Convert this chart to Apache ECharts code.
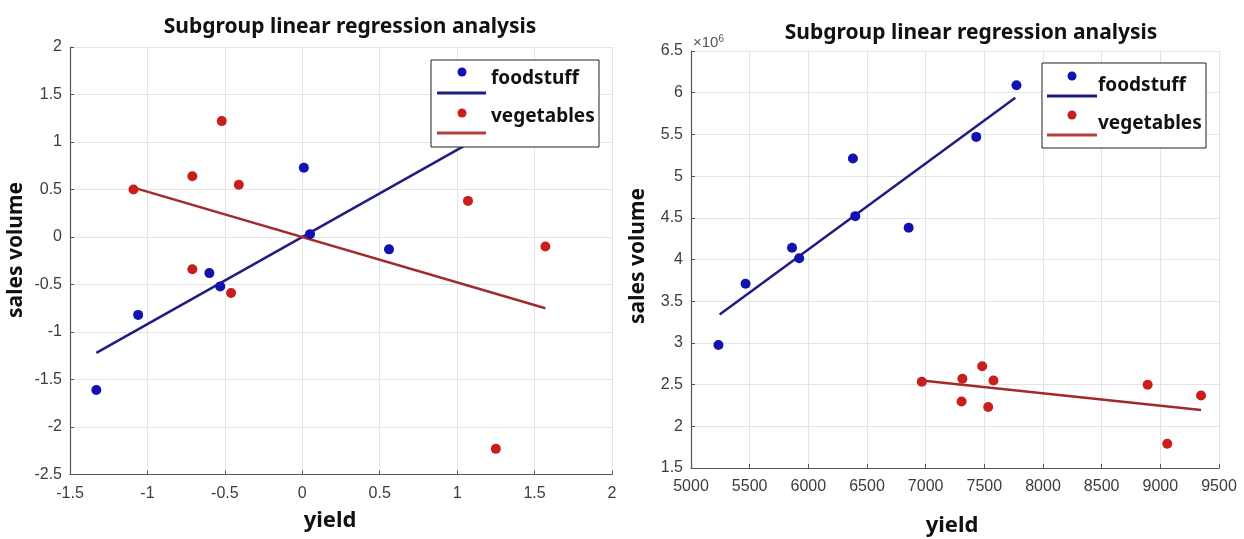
<!DOCTYPE html>
<html>
<head>
<meta charset="utf-8">
<script src="https://cdn.jsdelivr.net/npm/echarts@6/dist/echarts.min.js"></script>
<style>html,body{margin:0;padding:0;background:#fff;}#c{width:1244px;height:539px;}</style>
</head>
<body>
<div id="c"></div>
<script>
// ---- Left panel (standardized data) ----
var leftFoodX = [0.01, 0.05, 0.56, -0.60, -0.53, -1.06, -1.33];
var leftFoodY = [0.73, 0.03, -0.13, -0.38, -0.52, -0.82, -1.61];
var leftVegX = [-1.09, -0.71, -0.52, -0.41, 1.07, 1.57, -0.71, -0.46, 1.25];
var leftVegY = [0.50, 0.64, 1.22, 0.55, 0.38, -0.10, -0.34, -0.59, -2.23];
var leftFoodFitX = [-1.33, 1.10];
var leftFoodFitY = [-1.22, 1.01];
var leftVegFitX = [-1.09, 1.57];
var leftVegFitY = [0.52, -0.75];
var leftXTicks = [-1.5, -1, -0.5, 0, 0.5, 1, 1.5, 2];
var leftYTicks = [-2.5, -2, -1.5, -1, -0.5, 0, 0.5, 1, 1.5, 2];

// ---- Right panel (raw data) ----
var rightFoodX = [5234, 5465, 5861, 5922, 6380, 6400, 6855, 7431, 7774];
var rightFoodY = [2975000, 3710000, 4140000, 4015000, 5210000, 4520000, 4380000, 5470000, 6090000];
var rightVegX = [6967, 7313, 7306, 7482, 7578, 7533, 8892, 9059, 9347];
var rightVegY = [2535000, 2570000, 2298000, 2720000, 2550000, 2232000, 2498000, 1790000, 2370000];
var rightFoodFitX = [5244, 7764];
var rightFoodFitY = [3340000, 5940000];
var rightVegFitX = [6967, 9347];
var rightVegFitY = [2550000, 2195000];
var rightXTicks = [5000, 5500, 6000, 6500, 7000, 7500, 8000, 8500, 9000, 9500];
var rightYTicks = [1.5, 2, 2.5, 3, 3.5, 4, 4.5, 5, 5.5, 6, 6.5];

var titleText = 'Subgroup linear regression analysis';
var legendNames = ['foodstuff', 'vegetables'];
var xName = 'yield';
var yName = 'sales volume';

function zip(a, b) { return a.map(function (v, i) { return [v, b[i]]; }); }

var BLUE_DOT = '#1212b0', BLUE_LINE = '#1e1e82';
var RED_DOT = '#c81e1e', RED_LINE = '#a32a2a';
var TICK_FONT = { color: '#3c3c3c', fontSize: 16, fontFamily: 'Liberation Sans, Arial, sans-serif' };
var BOLD = 'Noto Sans, DejaVu Sans, sans-serif';

function valAxis(gi, ticks, fmt, isX) {
  var interval = ticks[1] - ticks[0];
  return {
    type: 'value', gridIndex: gi,
    min: ticks[0], max: ticks[ticks.length - 1], interval: interval,
    axisLine: { show: true, onZero: false, lineStyle: { color: '#555', width: 1.2 } },
    axisTick: { show: true, inside: true, length: 4, lineStyle: { color: '#555' } },
    splitLine: { show: true, lineStyle: { color: '#e4e4e4', width: 1 } },
    axisLabel: Object.assign({ margin: isX ? 11 : 8, formatter: fmt, showMinLabel: true, showMaxLabel: true }, TICK_FONT)
  };
}

var chart = echarts.init(document.getElementById('c'), null, { renderer: 'canvas' });

function legendBox(x0, y0, w, h, items) {
  var els = [{ type: 'rect', shape: { x: x0, y: y0, width: w, height: h }, style: { fill: '#fff', stroke: '#222', lineWidth: 1 }, z: 100 }];
  items.forEach(function (it) {
    els.push({ type: 'circle', shape: { cx: it.dx, cy: it.dy, r: 4.5 }, style: { fill: it.dot }, z: 101 });
    els.push({ type: 'line', shape: { x1: it.lx1, y1: it.ly, x2: it.lx2, y2: it.ly }, style: { stroke: it.line, lineWidth: 3 }, z: 101 });
    els.push({ type: 'text', x: it.tx, y: it.ty, style: { text: it.text, font: 'bold 19px ' + BOLD, fill: '#111', textVerticalAlign: 'middle' }, z: 101 });
  });
  return els;
}

var graphics = [
  { type: 'text', x: 350, y: 27, style: { text: titleText, font: 'bold 21px ' + BOLD, fill: '#111', textAlign: 'center', textVerticalAlign: 'middle' } },
  { type: 'text', x: 971, y: 33, style: { text: titleText, font: 'bold 21px ' + BOLD, fill: '#111', textAlign: 'center', textVerticalAlign: 'middle' } },
  { type: 'text', x: 330, y: 521, style: { text: xName, font: 'bold 22px ' + BOLD, fill: '#111', textAlign: 'center', textVerticalAlign: 'middle' } },
  { type: 'text', x: 952, y: 526, style: { text: xName, font: 'bold 22px ' + BOLD, fill: '#111', textAlign: 'center', textVerticalAlign: 'middle' } },
  { type: 'text', x: 16, y: 250, rotation: Math.PI / 2, style: { text: yName, font: 'bold 21px ' + BOLD, fill: '#111', textAlign: 'center', textVerticalAlign: 'middle' } },
  { type: 'text', x: 638, y: 256, rotation: Math.PI / 2, style: { text: yName, font: 'bold 21px ' + BOLD, fill: '#111', textAlign: 'center', textVerticalAlign: 'middle' } },
  { type: 'text', x: 693, y: 43, style: { rich: { a: { fontSize: 15, fontFamily: 'Liberation Sans, Arial, sans-serif', fill: '#555' }, b: { fontSize: 10, fontFamily: 'Liberation Sans, Arial, sans-serif', fill: '#555', verticalAlign: 'top', padding: [0, 0, 8, 0] } }, text: '{a|\u00d710}{b|6}', textVerticalAlign: 'middle' } }
].concat(legendBox(431, 60, 168, 87, [
  { dx: 462, dy: 72, dot: BLUE_DOT, lx1: 437, lx2: 486, ly: 93, line: BLUE_LINE, tx: 491, ty: 79, text: legendNames[0] },
  { dx: 462, dy: 113, dot: RED_DOT, lx1: 437, lx2: 486, ly: 133, line: '#b04040', tx: 491, ty: 117, text: legendNames[1] }
])).concat(legendBox(1042, 63, 164, 85, [
  { dx: 1072, dy: 76, dot: BLUE_DOT, lx1: 1047, lx2: 1097, ly: 96, line: BLUE_LINE, tx: 1098, ty: 86, text: legendNames[0] },
  { dx: 1072, dy: 115, dot: RED_DOT, lx1: 1047, lx2: 1097, ly: 135, line: '#b04040', tx: 1098, ty: 124, text: legendNames[1] }
]));

var dotStyle = function (c) { return { color: c, opacity: 1 }; };

var option = {
  backgroundColor: '#fff',
  animation: false,
  grid: [
    { left: 70, right: 1244 - 612, top: 47, bottom: 539 - 474.5, containLabel: false },
    { left: 691, right: 1244 - 1219, top: 51, bottom: 539 - 468, containLabel: false }
  ],
  xAxis: [
    valAxis(0, leftXTicks, function (v) { return String(v); }, true),
    valAxis(1, rightXTicks, function (v) { return String(v); }, true)
  ],
  yAxis: [
    valAxis(0, leftYTicks, function (v) { return String(v); }, false),
    valAxis(1, rightYTicks.map(function (t) { return t * 1e6; }), function (v) { return String(Math.round(v / 1e5) / 10); }, false)
  ],
  series: [
    { type: 'line', xAxisIndex: 0, yAxisIndex: 0, data: zip(leftFoodFitX, leftFoodFitY), symbol: 'none', lineStyle: { color: BLUE_LINE, width: 2.5 }, z: 3 },
    { type: 'line', xAxisIndex: 0, yAxisIndex: 0, data: zip(leftVegFitX, leftVegFitY), symbol: 'none', lineStyle: { color: RED_LINE, width: 2.5 }, z: 3 },
    { type: 'scatter', xAxisIndex: 0, yAxisIndex: 0, data: zip(leftFoodX, leftFoodY), symbolSize: 10, itemStyle: dotStyle(BLUE_DOT), z: 4 },
    { type: 'scatter', xAxisIndex: 0, yAxisIndex: 0, data: zip(leftVegX, leftVegY), symbolSize: 10, itemStyle: dotStyle(RED_DOT), z: 4 },
    { type: 'line', xAxisIndex: 1, yAxisIndex: 1, data: zip(rightFoodFitX, rightFoodFitY), symbol: 'none', lineStyle: { color: BLUE_LINE, width: 2.5 }, z: 3 },
    { type: 'line', xAxisIndex: 1, yAxisIndex: 1, data: zip(rightVegFitX, rightVegFitY), symbol: 'none', lineStyle: { color: RED_LINE, width: 2.5 }, z: 3 },
    { type: 'scatter', xAxisIndex: 1, yAxisIndex: 1, data: zip(rightFoodX, rightFoodY), symbolSize: 10, itemStyle: dotStyle(BLUE_DOT), z: 4 },
    { type: 'scatter', xAxisIndex: 1, yAxisIndex: 1, data: zip(rightVegX, rightVegY), symbolSize: 10, itemStyle: dotStyle(RED_DOT), z: 4 }
  ],
  graphic: graphics
};
chart.setOption(option);
</script>
</body>
</html>
